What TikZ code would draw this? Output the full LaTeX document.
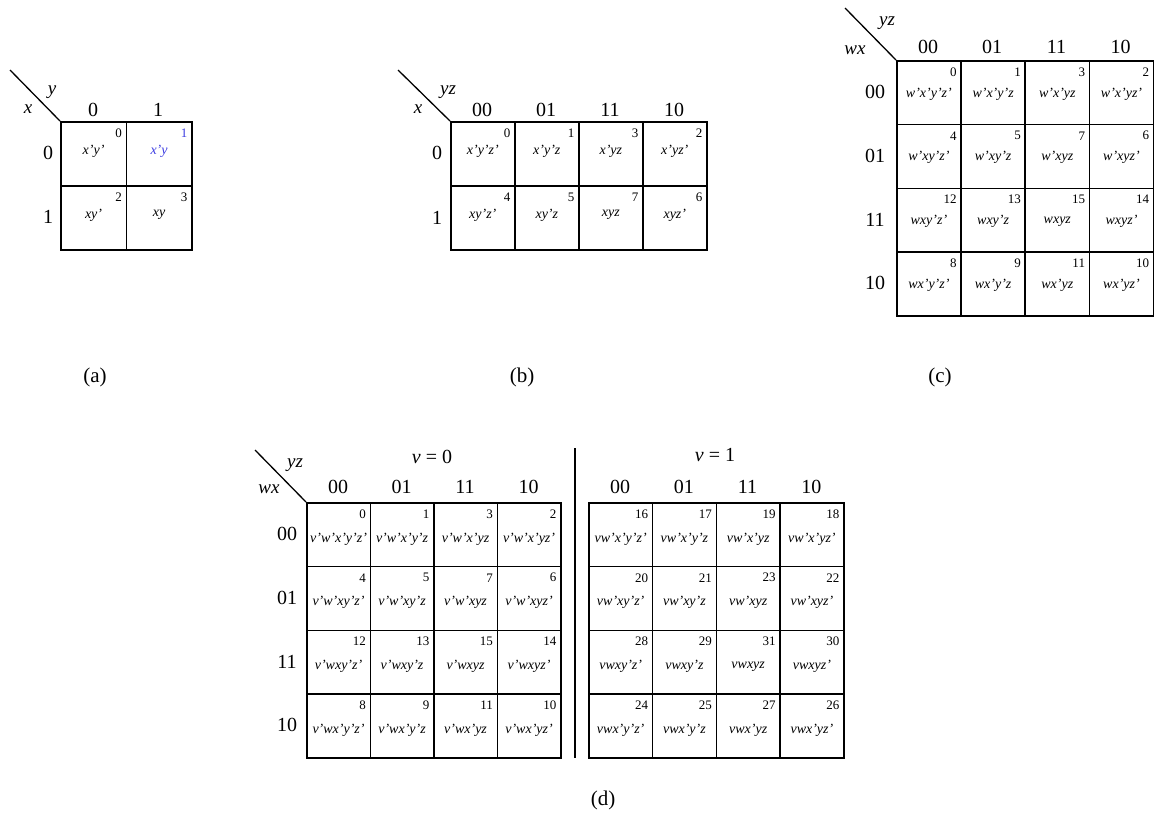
\documentclass[tikz,border=0pt]{standalone}
\usepackage{fontspec}
\setmainfont{Liberation Serif}
\definecolor{kblue}{RGB}{60,60,225}
\newcommand\kcell[8]{% #1 name, #2 left, #3 top, #4 w, #5 h, #6 index, #7 minterm, #8 minterm drop
  \node[gridcell, minimum width=#4pt, minimum height=#5pt] (#1) at (#2,#3) {};
  \node[idx] (#1-i) at ([xshift=-5pt,yshift=-12pt]#1.north east) {#6};
  \node[mt] (#1-m) at ([yshift=-#8pt]#1.north) {#7};
}
\begin{document}
\begin{tikzpicture}[x=1pt,y=-1pt,
  gridcell/.style={draw, line width=1.6pt, inner sep=0pt, anchor=north west},
  idx/.style={anchor=east, inner sep=0pt, font=\fontsize{13}{13}\selectfont},
  mt/.style={inner sep=0pt, font=\fontsize{14}{14}\selectfont\itshape},
  hdr/.style={inner sep=0pt, font=\fontsize{20}{20}\selectfont},
  var/.style={inner sep=0pt, font=\fontsize{19}{19}\selectfont\itshape},
  caplabel/.style={inner sep=0pt, font=\fontsize{21}{21}\selectfont},
  diag/.style={line width=1.3pt}]
\useasboundingbox (0,0) rectangle (1154,828);

% ---------- (a)
\kcell{a00}{60}{121}{65.5}{64}{0}{x'y'}{30}
\kcell{a01}{125.5}{121}{65.5}{64}{\color{kblue}1}{\color{kblue}x'y}{30}
\kcell{a10}{60}{185}{65.5}{64}{2}{xy'}{30}
\kcell{a11}{125.5}{185}{65.5}{64}{3}{xy}{30}
\node[hdr] (ac0) at (93,110) {0};
\node[hdr] (ac1) at (158,110) {1};
\node[hdr] (ar0) at (48,153) {0};
\node[hdr] (ar1) at (48,217) {1};
\coordinate (ad) at (10,70);
\draw[diag] (ad) -- (a00.north west);
\node[var] (ay) at (52,92) {y};
\node[var] (ax) at (28,109) {x};
\node[caplabel] (acap) at (95,377) {(a)};

% ---------- (b)
\foreach \c/\n/\m in {0/0/{x'y'z'},1/1/{x'y'z},2/3/{x'yz},3/2/{x'yz'}}{
  \kcell{b0\c}{450+64*\c}{121}{64}{64}{\n}{\m}{30}
}
\foreach \c/\n/\m in {0/4/{xy'z'},1/5/{xy'z},2/7/{xyz},3/6/{xyz'}}{
  \kcell{b1\c}{450+64*\c}{185}{64}{64}{\n}{\m}{30}
}
\foreach \c/\t in {0/00,1/01,2/11,3/10}{
  \node[hdr] (bc\c) at (482+64*\c,110) {\t};
}
\node[hdr] (br0) at (437,153) {0};
\node[hdr] (br1) at (437,218) {1};
\coordinate (bd) at (398,70);
\draw[diag] (bd) -- (b00.north west);
\node[var] (byz) at (448,92) {yz};
\node[var] (bx) at (418,109) {x};
\node[caplabel] (bcap) at (522,377) {(b)};

% ---------- (c)
\foreach \r/\rb/\rp in {0/0/{w'x'},1/4/{w'x},2/12/{wx},3/8/{wx'}}{
  \foreach \c/\cb/\cs in {0/0/{y'z'},1/1/{y'z},2/3/{yz},3/2/{yz'}}{
    \pgfmathtruncatemacro\kidx{\rb+\cb}
    \kcell{c\r\c}{896+64.2*\c}{60+63.75*\r}{64.2}{63.75}{\kidx}{\rp\cs}{34}
  }
}
\foreach \c/\t in {0/00,1/01,2/11,3/10}{
  \node[hdr] (cc\c) at (928+64.2*\c,47) {\t};
}
\foreach \r/\t in {0/00,1/01,2/11,3/10}{
  \node[hdr] (cr\r) at (875,92+63.75*\r) {\t};
}
\coordinate (cd) at (845,8);
\draw[diag] (cd) -- (c00.north west);
\node[var] (cyz) at (887,23) {yz};
\node[var] (cwx) at (855,50) {wx};
\node[caplabel] (ccap) at (940,377) {(c)};

% ---------- (d)
\foreach \r/\rb/\rp in {0/0/{w'x'},1/4/{w'x},2/12/{wx},3/8/{wx'}}{
  \foreach \c/\cb/\cs in {0/0/{y'z'},1/1/{y'z},2/3/{yz},3/2/{yz'}}{
    \pgfmathtruncatemacro\kidx{\rb+\cb}
    \pgfmathtruncatemacro\kidy{\rb+\cb+16}
    \kcell{dl\r\c}{306+63.5*\c}{502+63.75*\r}{63.5}{63.75}{\kidx}{v'\rp\cs}{37}
    \kcell{dr\r\c}{588+63.75*\c}{502+63.75*\r}{63.75}{63.75}{\kidy}{v\rp\cs}{37}
  }
}
\foreach \c/\t in {0/00,1/01,2/11,3/10}{
  \node[hdr] (dlc\c) at (338+63.5*\c,487) {\t};
  \node[hdr] (drc\c) at (620+63.75*\c,487) {\t};
}
\foreach \r/\t in {0/00,1/01,2/11,3/10}{
  \node[hdr] (dr\r) at (287,534+63.75*\r) {\t};
}
\coordinate (dd) at (255,450);
\draw[diag] (dd) -- (dl00.north west);
\node[var] (dyz) at (295,465) {yz};
\node[var] (dwx) at (269,489) {wx};
\node[hdr] (dv0) at (432,457) {\textit{v} = 0};
\node[hdr] (dv1) at (715,455) {\textit{v} = 1};
\coordinate (septop) at (575,448);
\coordinate (sepbot) at (575,758);
\draw[line width=1.8pt] (septop) -- (sepbot);
\node[caplabel] (dcap) at (603,800) {(d)};
\end{tikzpicture}
\end{document}
